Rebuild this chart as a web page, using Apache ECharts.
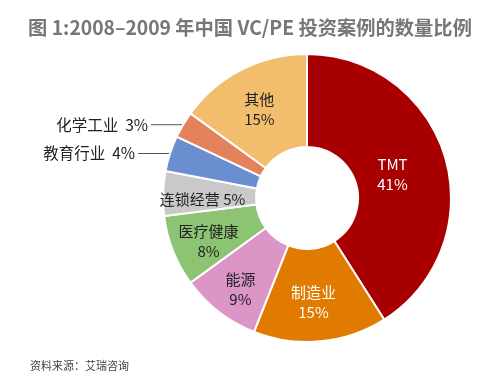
<!DOCTYPE html>
<html>
<head>
<meta charset="utf-8">
<script src="https://cdn.jsdelivr.net/npm/echarts@6/dist/echarts.min.js"></script>
<style>
html,body{margin:0;padding:0;background:#fff;}
#c{width:500px;height:385px;}
</style>
</head>
<body>
<div id="c"></div>
<script>
const categories = ['TMT','制造业','能源','医疗健康','连锁经营','教育行业','化学工业','其他'];
const values = [41,15,9,8,5,4,3,15];
const palette = ['#A80000','#E07B00','#DB95C7','#8CC473','#C9C9C9','#6B8ED1','#E3825C','#F2BE6E'];
const titleText = '图 1:2008–2009 年中国 VC/PE 投资案例的数量比例';
const sourceText = '资料来源：艾瑞咨询';

const whiteLabel = new Set(['TMT','制造业']);
const oneLine = new Set(['连锁经营']);
const outside = new Set(['教育行业','化学工业']);
// small label nudges (style only) to mimic the reference's label placement
const labelNudge = { 'TMT': [-11, 4], '制造业': [-3, 4], '能源': [-5, 12], '医疗健康': [-5, 6], '连锁经营': [-4, 4], '其他': [-2, 1] };
const FONT = '"Noto Sans CJK SC", "Noto Sans", sans-serif';

const data = categories.map((name, i) => {
  const item = { name, value: values[i], itemStyle: { color: palette[i] } };
  if (outside.has(name)) {
    item.label = {
      position: 'outside', formatter: '{b}  {c}%', color: '#222', fontSize: 15.5,
      distanceToLabelLine: 3
    };
    item.labelLine = { show: true, length: 0, length2: 32, lineStyle: { color: '#555', width: 1 } };
  } else {
    item.label = {
      position: 'inside',
      formatter: oneLine.has(name) ? '{b} {c}%' : '{b}\n{c}%',
      color: whiteLabel.has(name) ? '#fff' : '#222',
      fontSize: 15, lineHeight: 20
    };
    item.labelLine = { show: false };
  }
  return item;
});

const chart = echarts.init(document.getElementById('c'), null, { renderer: 'canvas' });
chart.setOption({
  animation: false,
  title: [{
    text: titleText, left: 'center', top: 13,
    textStyle: { fontFamily: FONT, fontSize: 19.3, fontWeight: 'bold', color: '#777' }
  }, {
    text: sourceText, left: 25, top: 355,
    textStyle: { fontFamily: FONT, fontSize: 11, fontWeight: 'normal', color: '#444' }
  }],
  series: [{
    type: 'pie',
    center: [307, 198],
    radius: [51, 144],
    startAngle: 90,
    clockwise: true,
    avoidLabelOverlap: false,
    itemStyle: { borderColor: '#fff', borderWidth: 2 },
    label: { fontFamily: FONT },
    emphasis: { disabled: true },
    labelLayout: function (p) {
      const n = labelNudge[categories[p.dataIndex]];
      return n ? { dx: n[0], dy: n[1] } : {};
    },
    data
  }]
});
</script>
</body>
</html>
